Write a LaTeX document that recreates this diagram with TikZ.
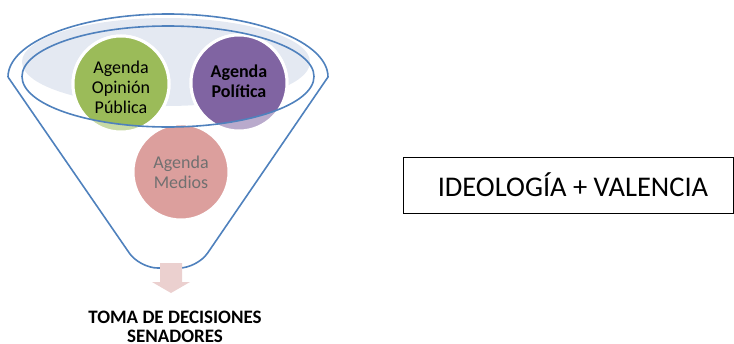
\documentclass[tikz,border=0pt]{standalone}
\usepackage{fontspec}
\setmainfont{Carlito}
\definecolor{funnelblue}{HTML}{4F81BD}
\definecolor{topfill}{HTML}{E4E9F2}
\definecolor{opgreen}{HTML}{9BBB59}
\definecolor{polpurple}{HTML}{8064A2}
\definecolor{medred}{HTML}{C0504D}
\definecolor{arrowpink}{HTML}{EBD0CF}
\definecolor{fadedtext}{HTML}{707070}
\begin{document}
\begin{tikzpicture}[x=1pt,y=-1pt,
  funnelline/.style={draw=funnelblue, line width=1.6pt},
  bubble/.style={draw=white, line width=3pt},
  faded/.style={fill opacity=0.55},
  bubbletext/.style={align=center, inner sep=0pt, font=\fontsize{18}{20}\selectfont},
  idea/.style={draw=black, line width=1pt, minimum width=330pt, minimum height=56pt,
    inner sep=0pt, font=\fontsize{28.5}{30}\selectfont}]
\useasboundingbox (0,0) rectangle (734,343);

% shaded mouth of the funnel
\fill[topfill] (166,62) ellipse [x radius=144, y radius=44];

% the three agendas, pale where they sink below the rim
\filldraw[bubble, fill=opgreen, faded] (121,84) circle [radius=48];
\filldraw[bubble, fill=polpurple, faded] (239,83) circle [radius=48];
\filldraw[bubble, fill=medred, faded] (181,172) circle [radius=48];

% full colour inside the rim
\begin{scope}
  \clip (168,76.5) ellipse [x radius=146, y radius=50.5];
  \filldraw[bubble, fill=opgreen] (121,84) circle [radius=48];
  \filldraw[bubble, fill=polpurple] (239,83) circle [radius=48];
  \filldraw[bubble, fill=medred, fill opacity=0.8] (181,172) circle [radius=48];
\end{scope}

% funnel body and rim
\draw[funnelline] (8,77) arc [start angle=180, end angle=360, x radius=160, y radius=63]
  [rounded corners=18pt] -- (197.4,268) -- (139.6,268) -- (8,77);
\draw[funnelline] (168,76.5) ellipse [x radius=146, y radius=50.5];

% labels of the agendas
\node[bubbletext] (opinion) at (121,87) {Agenda\\Opinión\\Pública};
\node[bubbletext, font=\fontsize{18}{20}\selectfont\bfseries] (politica) at (239,81) {Agenda\\Política};
\node[bubbletext, text=fadedtext] (medios) at (181,172) {Agenda\\Medios};

% outflow arrow
\fill[arrowpink] (160,263) -- (182,263) -- (182,282) -- (190,282) -- (171,293)
  -- (152,282) -- (160,282) -- cycle;
\coordinate (spout) at (171,293);

% result of the funnel
\node[anchor=north, align=center, inner sep=0pt, font=\fontsize{19}{19}\selectfont\bfseries]
  (decision) at (175,311) {TOMA DE DECISIONES\\SENADORES};

% side box
\node[idea] (valencia) at (568,185) {\hspace*{10pt}IDEOLOGÍA + VALENCIA};
\end{tikzpicture}
\end{document}
